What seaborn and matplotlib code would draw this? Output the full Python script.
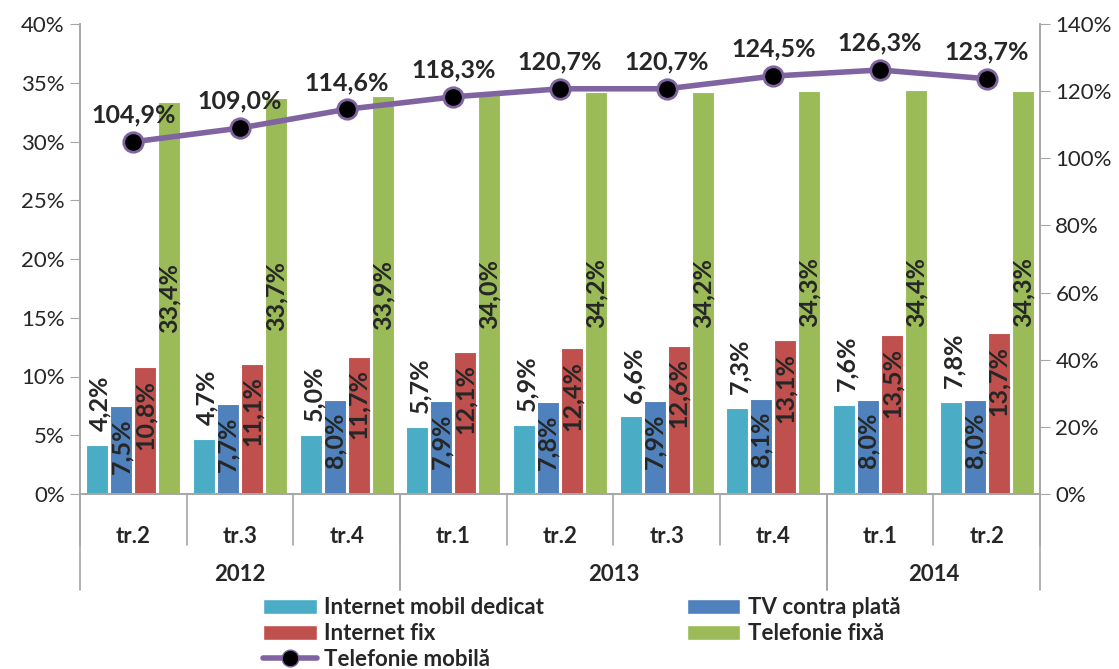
import numpy as np
import pandas as pd
import matplotlib
matplotlib.use('Agg')
import matplotlib.pyplot as plt
from matplotlib.lines import Line2D
from matplotlib.patches import Patch
from matplotlib.ticker import FuncFormatter, MultipleLocator
import matplotlib.transforms as mtransforms
import seaborn as sns

years = [2012, 2012, 2012, 2013, 2013, 2013, 2013, 2014, 2014]
quarters = ['tr.2', 'tr.3', 'tr.4', 'tr.1', 'tr.2', 'tr.3', 'tr.4', 'tr.1', 'tr.2']

internet_mobil = [4.2, 4.7, 5.0, 5.7, 5.9, 6.6, 7.3, 7.6, 7.8]
tv_plata = [7.5, 7.7, 8.0, 7.9, 7.8, 7.9, 8.1, 8.0, 8.0]
internet_fix = [10.8, 11.1, 11.7, 12.1, 12.4, 12.6, 13.1, 13.5, 13.7]
telefonie_fixa = [33.4, 33.7, 33.9, 34.0, 34.2, 34.2, 34.3, 34.4, 34.3]
telefonie_mobila = [104.9, 109.0, 114.6, 118.3, 120.7, 120.7, 124.5, 126.3, 123.7]

series_names = ['Internet mobil dedicat', 'TV contra plată', 'Internet fix', 'Telefonie fixă']
series_vals = [internet_mobil, tv_plata, internet_fix, telefonie_fixa]
colors = ['#4BACC6', '#4F81BD', '#C0504D', '#9BBB59']
purple = '#8064A2'
axis_gray = '#A6A6A6'

sns.set_style('white')
plt.rcParams['font.family'] = ['Lato', 'DejaVu Sans']

keys = [f'{y}-{q}' for y, q in zip(years, quarters)]
rows = []
for name, vals in zip(series_names, series_vals):
    for k, v in zip(keys, vals):
        rows.append({'perioada': k, 'serie': name, 'valoare': v})
df = pd.DataFrame(rows)

fig = plt.figure(figsize=(11.19, 6.69), dpi=100)
ax = fig.add_axes([80 / 1119, 1 - 494 / 669, 960 / 1119, 470 / 669])

sns.barplot(data=df, x='perioada', y='valoare', hue='serie', order=keys,
            hue_order=series_names, palette=colors, width=0.9, gap=0.08,
            edgecolor='white', linewidth=0.8, saturation=1, legend=False, ax=ax)

ax.set_ylim(0, 40)
ax.set_xlim(-0.5, len(keys) - 0.5)
ax.yaxis.set_major_locator(MultipleLocator(5))
ax.yaxis.set_major_formatter(FuncFormatter(lambda v, p: f'{v:.0f}%'))
ax.set_xlabel('')
ax.set_ylabel('')


def fmt(v):
    return f'{v:.1f}'.replace('.', ',') + '%'


# data labels on bars
for i, (cont, vals) in enumerate(zip(ax.containers, series_vals)):
    for rect, v in zip(cont, vals):
        cx = rect.get_x() + rect.get_width() / 2
        h = rect.get_height()
        if i == 0:
            # above the bar
            ax.annotate(fmt(v), (cx, h), xytext=(2, 10), textcoords='offset points',
                        rotation=90, ha='center', va='bottom', fontsize=18, fontweight='bold')
        elif i == 3:
            # centered in the bar
            ax.annotate(fmt(v), (cx, h / 2), xytext=(0, 0), textcoords='offset points',
                        rotation=90, ha='center', va='center', fontsize=18, fontweight='bold')
        else:
            # inside end
            ax.annotate(fmt(v), (cx, h), xytext=(0, -9), textcoords='offset points',
                        rotation=90, ha='center', va='top', fontsize=18, fontweight='bold')

# secondary axis with mobile telephony
ax2 = ax.twinx()
idx = np.arange(len(keys))
sns.lineplot(x=idx, y=telefonie_mobila, ax=ax2, color=purple, linewidth=4,
             marker='o', markersize=14, markerfacecolor='black',
             markeredgecolor=purple, markeredgewidth=2, zorder=5)
ax2.set_ylim(0, 140)
ax2.set_xlim(-0.5, len(keys) - 0.5)
ax2.yaxis.set_major_locator(MultipleLocator(20))
ax2.yaxis.set_major_formatter(FuncFormatter(lambda v, p: f'{v:.0f}%'))
for x, v in zip(idx, telefonie_mobila):
    ax2.annotate(fmt(v), (x, v), xytext=(0, 11), textcoords='offset points',
                 ha='center', va='bottom', fontsize=18, fontweight='bold')

for a in (ax, ax2):
    for s in a.spines.values():
        s.set_color(axis_gray)
        s.set_linewidth(1.2)
    a.spines['top'].set_visible(False)
ax.tick_params(axis='y', which='major', length=7, color=axis_gray, labelsize=16,
               labelcolor='#262626', direction='out', pad=4)
ax2.tick_params(axis='y', which='major', length=7, color=axis_gray, labelsize=16,
                labelcolor='#262626', direction='out', pad=4)

# two-level category axis
ax.set_xticks(idx)
ax.set_xticklabels(quarters, fontsize=16, fontweight='bold')
ax.tick_params(axis='x', length=0, pad=23)
trans = mtransforms.blended_transform_factory(ax.transData, ax.transAxes)
for b in np.arange(len(keys) + 1) - 0.5:
    ax.plot([b, b], [0, -0.108], transform=trans, color=axis_gray, lw=1.2, clip_on=False)

year_list = sorted(set(years))
for y in year_list:
    pos = [i for i, yy in enumerate(years) if yy == y]
    left, right = pos[0] - 0.5, pos[-1] + 0.5
    ax.text((left + right) / 2, -0.172, str(y), transform=trans, ha='center', va='center',
            fontsize=16, fontweight='bold')
    for b in (left, right):
        ax.plot([b, b], [0, -0.204], transform=trans, color=axis_gray, lw=1.2, clip_on=False)

handles = [Patch(facecolor=colors[0], edgecolor='white'),
           Patch(facecolor=colors[2], edgecolor='white'),
           Line2D([0], [0], color=purple, lw=4, marker='o', markersize=12,
                  markerfacecolor='black', markeredgecolor=purple),
           Patch(facecolor=colors[1], edgecolor='white'),
           Patch(facecolor=colors[3], edgecolor='white')]
labels = [series_names[0], series_names[2], 'Telefonie mobilă', series_names[1], series_names[3]]
fig.legend(handles, labels, loc='upper left', bbox_to_anchor=(250 / 1119, 1 - 584 / 669),
           ncol=2, frameon=False, handlelength=2.4, handleheight=0.7, handletextpad=0.35,
           labelspacing=0.22, columnspacing=6.4, borderpad=0.1,
           prop={'size': 16, 'weight': 'bold'})

fig.savefig('out.png', dpi=100)
